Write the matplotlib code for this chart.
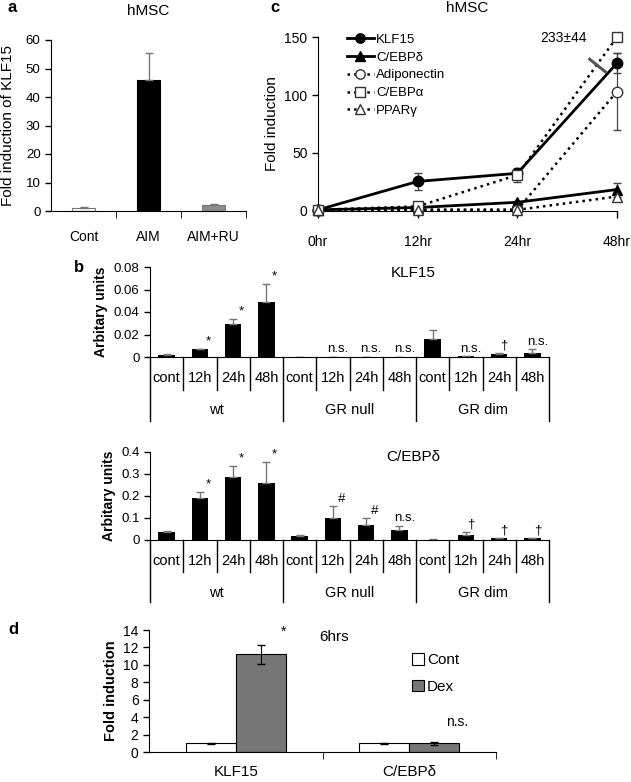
import numpy as np
import matplotlib
matplotlib.use('Agg')
import matplotlib.pyplot as plt
from matplotlib.ticker import FuncFormatter

plt.rcParams['font.family'] = ['Liberation Sans', 'DejaVu Sans']

# ---- data ----
# panel a
a_labels = ['Cont', 'AIM', 'AIM+RU']
a_vals = [1.0, 45.8, 2.0]
a_err = [0.3, 9.5, 0.6]
a_colors = ['white', 'black', '#8c8c8c']

# panel c
c_times = ['0hr', '12hr', '24hr', '48hr']
c_klf15 = [1, 25.5, 32.5, 127.5]
c_klf15_err = [0, 7.5, 2.5, 8.5]
c_cebpd = [1, 3, 7.5, 18.5]
c_cebpd_err = [0, 1, 1.5, 6]
c_adipo = [1, 1, 1, 103]
c_adipo_err = [0, 0.5, 0.5, 33]
c_cebpa = [1, 4, 31, 150]
c_cebpa_err = [0, 1, 6, 0]
c_ppar = [1, 1, 1, 12.5]
c_ppar_err = [0, 0.5, 0.5, 3]

# panel b
b_times = ['cont', '12h', '24h', '48h'] * 3
b_groups = ['wt', 'GR null', 'GR dim']
b_klf15 = [0.002, 0.007, 0.029, 0.049, 0.0003, 0.0003, 0.0003, 0.0003, 0.016, 0.0005, 0.003, 0.004]
b_klf15_err = [0.0005, 0.0005, 0.005, 0.016, 0, 0, 0, 0, 0.008, 0.0003, 0.001, 0.003]
b_klf15_marks = ['', '*', '*', '*', '', 'n.s.', 'n.s.', 'n.s.', '', 'n.s.', '\u2020', 'n.s.']
b_cebpd = [0.035, 0.19, 0.285, 0.258, 0.016, 0.10, 0.068, 0.045, 0.002, 0.025, 0.008, 0.008]
b_cebpd_err = [0.005, 0.027, 0.05, 0.098, 0.005, 0.055, 0.03, 0.02, 0.0005, 0.012, 0.002, 0.002]
b_cebpd_marks = ['', '*', '*', '*', '', '#', '#', 'n.s.', '', '\u2020', '\u2020', '\u2020']

# panel d
d_genes = ['KLF15', 'C/EBP\u03b4']
d_cont = [1.0, 1.0]
d_cont_err = [0.05, 0.05]
d_dex = [11.2, 1.0]
d_dex_err = [1.1, 0.15]
d_marks = ['*', 'n.s.']

W, H = 631, 782
fig = plt.figure(figsize=(W / 100, H / 100), dpi=100)


def px_axes(left, right, top, bottom):
    # axes from pixel box (y measured from top)
    return fig.add_axes([left / W, 1 - bottom / H, (right - left) / W, (bottom - top) / H])


def basic(ax):
    ax.spines['top'].set_visible(False)
    ax.spines['right'].set_visible(False)
    ax.tick_params(direction='out', length=4, width=1, labelsize=9.5)


# ---------------- panel a ----------------
ax = px_axes(51, 246, 40, 211)
basic(ax)
xa = np.arange(len(a_labels)) + 0.5
ax.bar(xa, a_vals, width=0.35, color=a_colors, edgecolor=['#777777', 'black', '#777777'], linewidth=0.8)
ax.errorbar(xa, a_vals, yerr=[np.zeros(3), a_err], fmt='none', ecolor='#777777', elinewidth=1, capsize=3)
ax.set_xlim(0, 3)
ax.set_ylim(0, 60)
ax.set_yticks(range(0, 61, 10))
ax.set_xticks(xa)
ax.set_xticklabels(a_labels, fontsize=10)
ax.tick_params(axis='x', length=0, pad=14)
ax.set_xticks([1, 2, 3], minor=True)
ax.tick_params(axis='x', which='minor', length=5, direction='out')
ax.set_ylabel('Fold induction of KLF15', fontsize=11, labelpad=8)
ax.set_title('hMSC', fontsize=11, pad=18)
fig.text(7 / W, 1 - 8 / H, 'a', fontsize=12, fontweight='bold', va='center')

# ---------------- panel c ----------------
ax = px_axes(318, 617, 37, 211)
basic(ax)
xc = np.arange(len(c_times))
series = [
    (c_klf15, c_klf15_err, 'KLF15', '-', 'o', 'black', 2.0),
    (c_cebpd, c_cebpd_err, 'C/EBP\u03b4', '-', '^', 'black', 2.0),
    (c_adipo, c_adipo_err, 'Adiponectin', ':', 'o', 'white', 1.8),
    (c_cebpa, c_cebpa_err, 'C/EBP\u03b1', ':', 's', 'white', 1.8),
    (c_ppar, c_ppar_err, 'PPAR\u03b3', ':', '^', 'white', 1.8),
]
for vals, err, lab, ls, mk, fc, lw in series:
    ec = '#333333' if fc == 'white' else 'black'
    ax.errorbar(xc, vals, yerr=err, fmt='none', ecolor='#444444', elinewidth=0.9, capsize=3,
                clip_on=False, zorder=2)
    ax.plot(xc, vals, color='black', ls=ls, lw=lw, marker=mk, ms=7.5, mfc=fc, mec=ec, mew=1,
            label=lab, clip_on=False, zorder=3)
# break mark on the C/EBPa line
bx = 2.8
by = c_cebpa[2] + 0.8 * (c_cebpa[3] - c_cebpa[2])
ax.plot([bx], [by], marker=[(-1, 0.8), (1, -0.8)], ms=13, mew=2.2, color='#555555', zorder=4)
ax.set_xlim(0, 3)
ax.set_ylim(0, 150)
ax.set_yticks([0, 50, 100, 150])
ax.set_xticks(xc)
ax.set_xticklabels(c_times, fontsize=10)
ax.tick_params(axis='x', pad=12, length=5)
ax.tick_params(axis='y', labelsize=10)
ax.set_ylabel('Fold induction', fontsize=11, labelpad=4)
ax.set_title('hMSC', fontsize=11, pad=18)
ax.text(0.82, 0.995, '233\u00b144', transform=ax.transAxes, fontsize=10, ha='center', va='center')
ax.legend(loc='upper left', bbox_to_anchor=(0.08, 1.05), frameon=False, fontsize=9.5,
          handlelength=2.0, handletextpad=0.2, labelspacing=0.42, borderaxespad=0, markerscale=0.9)
fig.text(270 / W, 1 - 7 / H, 'c', fontsize=12, fontweight='bold', va='center')


# ---------------- panel b ----------------
def panel_b(top, bottom, vals, err, marks, ymax, step, title, short_y, long_y, lab_y, grp_y):
    ax = px_axes(150, 549, top, bottom)
    basic(ax)
    x = np.arange(len(vals)) + 0.5
    ax.bar(x, vals, width=0.5, color='black')
    ax.errorbar(x, vals, yerr=[np.zeros(len(vals)), err], fmt='none', ecolor='#777777',
                elinewidth=1, capsize=3)
    ax.set_xlim(0, len(vals))
    ax.set_ylim(0, ymax)
    ax.set_yticks(np.arange(0, ymax + step / 2, step))
    ax.yaxis.set_major_formatter(FuncFormatter(lambda v, p: '0' if abs(v) < 1e-9 else f'{v:g}'))
    ax.set_xticks([])
    ax.set_ylabel('Arbitary units', fontsize=10, fontweight='bold', labelpad=4)
    ax.set_title(title, fontsize=11, x=0.66, y=0.8)
    tr = ax.get_xaxis_transform()
    for i in range(1, len(vals)):
        if i % 4 == 0:
            continue
        ax.plot([i, i], [0, short_y], color='black', lw=1, transform=tr, clip_on=False)
    for i in range(0, len(vals) + 1, 4):
        ax.plot([i, i], [0, long_y], color='black', lw=1, transform=tr, clip_on=False)
    for xi, t in zip(x, b_times):
        ax.text(xi, lab_y, t, transform=tr, ha='center', va='center', fontsize=10.5)
    for g, name in enumerate(b_groups):
        ax.text(4 * g + 2, grp_y, name, transform=tr, ha='center', va='center', fontsize=10.5)
    for xi, v, e, m in zip(x, vals, err, marks):
        if m:
            dx = 0.25 if m in ('*', '#') else 0.15
            ax.annotate(m, (xi + dx, v + e), xytext=(0, 1), textcoords='offset points',
                        ha='center', va='bottom', fontsize=9.5)
    return ax


panel_b(267, 357, b_klf15, b_klf15_err, b_klf15_marks, 0.08, 0.02, 'KLF15', -0.367, -0.711, -0.233, -0.59)
panel_b(452, 540, b_cebpd, b_cebpd_err, b_cebpd_marks, 0.4, 0.1, 'C/EBP\u03b4', -0.364, -0.705, -0.24, -0.60)
fig.text(74 / W, 1 - 267 / H, 'b', fontsize=12, fontweight='bold', va='center')

# ---------------- panel d ----------------
ax = px_axes(149, 496, 630, 752)
basic(ax)
xd = np.arange(len(d_genes)) + 0.5
bw = 0.288
ax.bar(xd - bw / 2, d_cont, width=bw, color='white', edgecolor='black', linewidth=0.8, label='Cont')
ax.bar(xd + bw / 2, d_dex, width=bw, color='#777777', edgecolor='black', linewidth=0.8, label='Dex')
ax.errorbar(xd - bw / 2, d_cont, yerr=d_cont_err, fmt='none', ecolor='black', elinewidth=0.8, capsize=3)
ax.errorbar(xd + bw / 2, d_dex, yerr=d_dex_err, fmt='none', ecolor='black', elinewidth=0.8, capsize=3)
for xi, v, e, m in zip(xd + bw / 2, d_dex, d_dex_err, d_marks):
    ax.annotate(m, (xi + 0.13, v + e), xytext=(0, 4 if m == '*' else 9), textcoords='offset points',
                ha='center', va='bottom', fontsize=10)
ax.set_xlim(0, 2)
ax.set_ylim(0, 14)
ax.set_yticks(range(0, 15, 2))
ax.set_xticks(xd)
ax.set_xticklabels(d_genes, fontsize=11)
ax.tick_params(axis='x', length=0, pad=9)
ax.set_xticks([1, 2], minor=True)
ax.tick_params(axis='x', which='minor', length=5, direction='out')
ax.tick_params(axis='y', labelsize=10)
ax.set_ylabel('Fold induction', fontsize=10.5, fontweight='bold', labelpad=4)
ax.text(0.533, 0.94, '6hrs', transform=ax.transAxes, fontsize=11, ha='center', va='center')
ax.legend(loc='upper left', bbox_to_anchor=(0.74, 0.86), frameon=False, fontsize=11,
          handlelength=0.8, handleheight=0.8, handletextpad=0.2, labelspacing=0.8, borderaxespad=0)
fig.text(8 / W, 1 - 630 / H, 'd', fontsize=12, fontweight='bold', va='center')

fig.savefig('out.png', dpi=100)
